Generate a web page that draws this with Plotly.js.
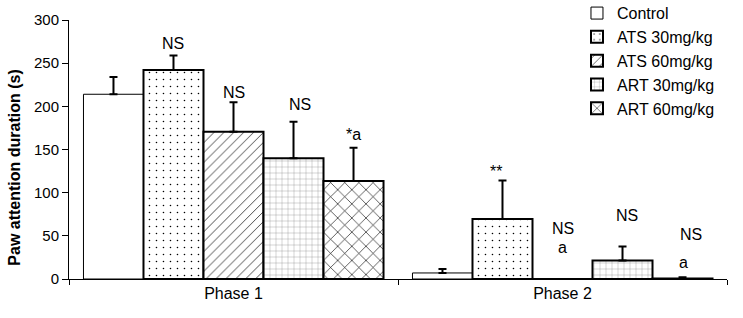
<!DOCTYPE html>
<html>
<head>
<meta charset="utf-8">
<script src="https://cdn.plot.ly/plotly-3.0.1.min.js"></script>
<style>html,body{margin:0;padding:0;background:#fff;}#chart{width:743px;height:318px;}</style>
</head>
<body>
<div id="chart"></div>
<script>
// ---- data ----
const phases = ["Phase 1", "Phase 2"];
const groups = ["Control", "ATS 30mg/kg", "ATS 60mg/kg", "ART 30mg/kg", "ART 60mg/kg"];
const controlVals = [214, 7];
const controlErr = [20, 4.5];
const ats30Vals = [242, 69.5];
const ats30Err = [17, 44.5];
const ats60Vals = [170.6, 0];
const ats60Err = [34, 0];
const art30Vals = [140, 21.5];
const art30Err = [42, 16.2];
const art60Vals = [113.5, 0.5];
const art60Err = [38.5, 1.5];
const yTicks = [0, 50, 100, 150, 200, 250, 300];

// significance labels: [phase index, group index, text, label height]
const sigLabels = [
  [0, 1, "NS", 273],
  [0, 2, "NS", 216.5],
  [0, 3, "NS", 202.5],
  [0, 4, "*a", 167],
  [1, 1, "**", 124],
  [1, 2, "NS", 59],
  [1, 2, "a", 36],
  [1, 3, "NS", 73],
  [1, 4, "NS", 52],
  [1, 4, "a", 19.5]
];
const sigShift = [0, 0, 6, 0, -6, 0, 0, 4, 8, 1];

const vals = [controlVals, ats30Vals, ats60Vals, art30Vals, art60Vals];
const errs = [controlErr, ats30Err, ats60Err, art30Err, art60Err];
const patterns = [
  {shape: "", fgcolor: "#000", bgcolor: "#fff"},
  {shape: ".", fgcolor: "#000", bgcolor: "#fff", size: 7, solidity: 0.04},
  {shape: "/", fgcolor: "#000", bgcolor: "#fff", size: 7, solidity: 0.1},
  {shape: "+", fgcolor: "#555", bgcolor: "#fff", size: 6, solidity: 0.08},
  {shape: "x", fgcolor: "#000", bgcolor: "#fff", size: 10, solidity: 0.12}
];
const lineW = [1, 2, 2, 2, 2];

const font = "Liberation Sans, Arial, sans-serif";
const traces = groups.map((g, i) => ({
  type: "bar",
  name: g,
  x: phases,
  y: vals[i],
  legendgroup: "g" + i,
  marker: {color: "#fff", pattern: patterns[i], line: {color: "#000", width: lineW[i]}},
  error_y: {type: "data", array: errs[i], arrayminus: errs[i].map(() => 0), symmetric: false,
            color: "#000", thickness: 2, width: 4}
}));

const bargap = 0.088;
const bw = (1 - bargap) / groups.length;
const annotations = sigLabels.map((s, k) => ({
  x: s[0] - (1 - bargap) / 2 + bw * (s[1] + 0.5),
  y: s[3], xref: "x", yref: "y", text: s[2], showarrow: false,
  xshift: sigShift[k],
  font: {family: font, size: 16, color: "#000"}
}));
annotations.push({
  xref: "paper", yref: "paper", x: -0.082, y: 0.43, text: "<b>Paw attention duration (s)</b>",
  textangle: -90, showarrow: false, xanchor: "center", yanchor: "middle",
  font: {family: font, size: 16, color: "#000"}
});

const layout = {
  width: 743, height: 318,
  margin: {l: 69, r: 16, t: 20, b: 39, autoexpand: false},
  paper_bgcolor: "#fff", plot_bgcolor: "#fff",
  barmode: "group", bargap: bargap, bargroupgap: 0,
  font: {family: font, size: 15, color: "#000"},
  showlegend: true,
  legend: {x: 0.772, y: 1.092, xanchor: "left", yanchor: "top", bgcolor: "rgba(0,0,0,0)",
           traceorder: "grouped", tracegroupgap: 0, font: {family: font, size: 16, color: "#000"}},
  xaxis: {type: "category", showline: true, linecolor: "#000", linewidth: 1, ticks: "outside",
          tickson: "boundaries", ticklen: 5, tickcolor: "#000", showgrid: false, zeroline: false,
          tickfont: {family: font, size: 16}, range: [-0.5, 1.5]},
  yaxis: {range: [0, 300], tickvals: yTicks, showline: true, linecolor: "#000", linewidth: 1,
          ticks: "outside", ticklen: 6, tickcolor: "#000", showgrid: false, zeroline: false,
          tickfont: {family: font, size: 15}},
  annotations: annotations
};

Plotly.newPlot("chart", traces, layout, {displayModeBar: false, staticPlot: true});
</script>
</body>
</html>
